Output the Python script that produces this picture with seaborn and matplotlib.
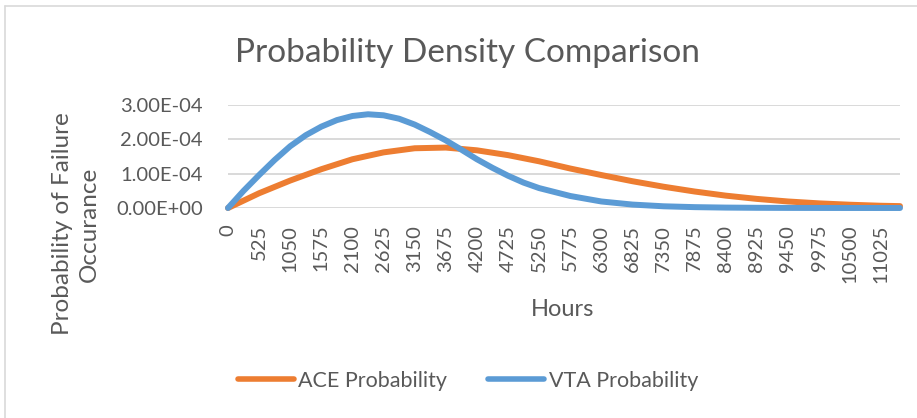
import matplotlib
matplotlib.use("Agg")
import matplotlib.pyplot as plt
from matplotlib.lines import Line2D
import seaborn as sns
import pandas as pd

# ---- data (values in units of 1e-4) ----
ace_hours = [0, 525, 1050, 1575, 2100, 2625, 3150, 3675, 4200, 4725, 5250, 5775,
             6300, 6825, 7350, 7875, 8400, 8925, 9450, 9975, 10500, 11025, 11340]
ace_prob = [0, 0.43, 0.80, 1.13, 1.42, 1.62, 1.74, 1.76, 1.68, 1.54, 1.36, 1.15,
            0.96, 0.78, 0.62, 0.48, 0.36, 0.265, 0.19, 0.135, 0.095, 0.065, 0.055]

vta_hours = [0, 262.5, 525, 787.5, 1050, 1312.5, 1575, 1837.5, 2100, 2362.5, 2625,
             2887.5, 3150, 3412.5, 3675, 3937.5, 4200, 4462.5, 4725, 4987.5, 5250,
             5775, 6300, 6825, 7350, 7875, 8400, 8925, 9450, 9975, 10500, 11025, 11340]
vta_prob = [0, 0.50, 0.96, 1.40, 1.80, 2.12, 2.37, 2.56, 2.68, 2.73, 2.70,
            2.60, 2.43, 2.21, 1.97, 1.70, 1.42, 1.17, 0.94, 0.74, 0.58,
            0.35, 0.19, 0.10, 0.05, 0.025, 0.012, 0.006, 0.003, 0.0015, 0.0007, 0.0003, 0.0002]

tick_hours = [0, 525, 1050, 1575, 2100, 2625, 3150, 3675, 4200, 4725, 5250, 5775,
              6300, 6825, 7350, 7875, 8400, 8925, 9450, 9975, 10500, 11025]
y_ticks = [0, 1e-4, 2e-4, 3e-4]
y_tick_labels = ["0.00E+00", "1.00E-04", "2.00E-04", "3.00E-04"]

ace_df = pd.DataFrame({"Hours": ace_hours, "p": [v * 1e-4 for v in ace_prob]})
vta_df = pd.DataFrame({"Hours": vta_hours, "p": [v * 1e-4 for v in vta_prob]})

# ---- style ----
sns.set_theme(style="white")
plt.rcParams["font.family"] = ["Lato", "DejaVu Sans"]
TXT = "#595959"
ORANGE = "#ED7D31"
BLUE = "#5B9BD5"
GRID = "#D9D9D9"

W, H = 917, 418
fig = plt.figure(figsize=(W / 100, H / 100), dpi=100)
ax = fig.add_axes([228 / W, 1 - 208 / H, (900 - 228) / W, (208 - 105) / H])

sns.lineplot(data=ace_df, x="Hours", y="p", ax=ax, color=ORANGE, lw=4.3,
             label="ACE Probability", solid_capstyle="round", sort=False)
sns.lineplot(data=vta_df, x="Hours", y="p", ax=ax, color=BLUE, lw=4.3,
             label="VTA Probability", solid_capstyle="round", sort=False)
for ln in ax.lines:
    ln.set_clip_on(False)
    ln.set_zorder(3)

ax.set_xlim(0, 11340)
ax.set_ylim(0, 3e-4)
ax.set_xticks(tick_hours)
ax.set_xticklabels([str(t) for t in tick_hours], rotation=90, va="top")
ax.set_yticks(y_ticks)
ax.set_yticklabels(y_tick_labels)
ax.tick_params(axis="x", length=0, pad=12, labelsize=14.5, labelcolor=TXT)
ax.tick_params(axis="y", length=0, pad=18, labelsize=14.5, labelcolor=TXT)
ax.grid(axis="y", color=GRID, lw=1.4)
ax.grid(axis="x", visible=False)
ax.set_axisbelow(True)
for s in ax.spines.values():
    s.set_visible(False)
ax.set_xlabel("")
ax.set_ylabel("")
ax.get_legend().remove()

# texts
fig.text(467 / W, 1 - 61.7 / H, "Probability Density Comparison", ha="center",
         va="baseline", fontsize=24, color=TXT)
fig.text(76 / W, 1 - 224 / H, "Probability of Failure\nOccurance", rotation=90,
         ha="center", va="center", multialignment="center", fontsize=17.5,
         color=TXT, linespacing=1.3)
fig.text(563 / W, 1 - 310 / H, "Hours", ha="center", va="center", fontsize=17,
         color=TXT)

handles, labels = ax.get_legend_handles_labels()
leg = fig.legend(handles, labels, loc="center", bbox_to_anchor=(468 / W, 1 - 381 / H),
                 ncol=2, frameon=False, fontsize=15.5, handlelength=2.6,
                 handletextpad=0.2, columnspacing=1.9, labelcolor=TXT)
for lh in leg.get_lines():
    lh.set_linewidth(4)
    lh.set_solid_capstyle("round")

# chart border (left and top visible)
fig.add_artist(Line2D([4.5 / W, 4.5 / W], [0, 1 - 6 / H], transform=fig.transFigure,
                      color=GRID, lw=1.2))
fig.add_artist(Line2D([4.5 / W, 1], [1 - 6 / H, 1 - 6 / H], transform=fig.transFigure,
                      color=GRID, lw=1.2))

fig.savefig("out.png", dpi=100, facecolor="white")
